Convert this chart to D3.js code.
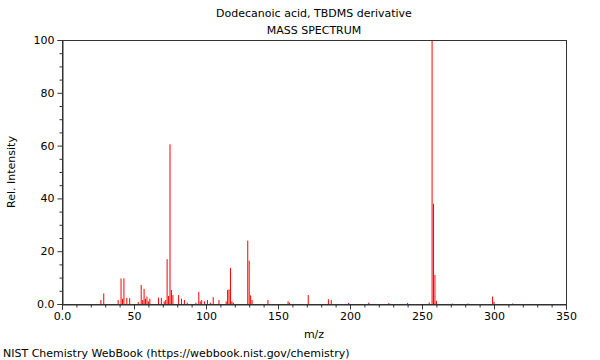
<!DOCTYPE html>
<html>
<head>
<meta charset="utf-8">
<script src="https://cdn.jsdelivr.net/npm/d3@7"></script>
<style>
  body { margin: 0; background: #fff; }
  text { font-family: "DejaVu Sans", sans-serif; fill: #000; }
</style>
</head>
<body>
<svg id="chart" width="600" height="360"></svg>
<script>
// peaks
let mz = [27, 29, 39, 41, 42, 43, 45, 47, 53, 55, 56, 57, 58, 59, 60, 61,
          67, 69, 71, 72, 73, 74, 75, 76, 77, 81, 83, 85, 87, 93, 95, 96,
          97, 99, 101, 103, 105, 109, 114, 115, 116, 117, 118, 119, 129, 130,
          131, 132, 143, 157, 158, 171, 185, 187, 199, 213, 227, 240, 255,
          257, 258, 259, 260, 271, 282, 299, 300, 313];
let intensity = [1.5, 4.0, 1.5, 9.7, 2.0, 9.7, 2.3, 2.2, 0.7, 7.2, 1.5, 5.7, 2.0, 2.8, 1.0, 2.0,
                 2.4, 2.3, 1.0, 1.5, 17, 3.0, 60.5, 5.3, 3.4, 3.4, 2.0, 1.5, 0.5, 0.5, 4.6, 1.0,
                 1.5, 1.0, 1.5, 0.5, 2.6, 1.5, 1.0, 5.3, 5.5, 13.7, 1.0, 0.5, 24, 16.4,
                 3.3, 1.5, 1.5, 1.0, 0.5, 3.4, 1.8, 1.5, 0.4, 0.5, 0.4, 0.4, 0.6,
                 100, 38, 11, 1.2, 0.2, 0.2, 2.8, 0.8, 0.2];
let xMajor = [0, 50, 100, 150, 200, 250, 300, 350];
let yMajor = [0, 20, 40, 60, 80, 100];

let titleText = "Dodecanoic acid, TBDMS derivative";
let subtitleText = "MASS SPECTRUM";
let footerText = "NIST Chemistry WebBook (https://webbook.nist.gov/chemistry)";

let svg = d3.select("#chart");
let plotLeft = 62, plotRight = 566, plotTop = 40, plotBottom = 304;

let x = d3.scaleLinear().domain([0, 350]).range([plotLeft, plotRight]);
let y = d3.scaleLinear().domain([0, 100]).range([plotBottom, plotTop]);

let peaks = mz.map(function(m, i) { return {mz: m, v: intensity[i]}; });

// peaks
svg.append("g")
    .selectAll("line")
    .data(peaks)
    .enter().append("line")
    .attr("x1", function(d) { return x(d.mz); })
    .attr("x2", function(d) { return x(d.mz); })
    .attr("y1", y(0))
    .attr("y2", function(d) { return y(d.v); })
    .style("stroke", "#ff0000")
    .style("stroke-width", 1);

// frame
svg.append("rect")
    .attr("x", plotLeft + 0.5).attr("y", plotTop + 0.5)
    .attr("width", plotRight - plotLeft).attr("height", plotBottom - plotTop)
    .style("fill", "none")
    .style("stroke", "#333")
    .style("stroke-width", 1);

// x axis
let xMinor = d3.range(0, 351, 10).filter(function(v) { return v % 50 != 0; });
let xAxis = svg.append("g").attr("transform", "translate(0," + (plotBottom + 0.5) + ")");
xAxis.call(d3.axisBottom(x).tickValues(xMajor).tickSize(5)
        .tickFormat(function(d) { return d == 0 ? "0.0" : d; }));
xAxis.append("g").selectAll("line")
    .data(xMinor).enter().append("line")
    .attr("x1", function(d) { return x(d) + 0.5; })
    .attr("x2", function(d) { return x(d) + 0.5; })
    .attr("y1", 0).attr("y2", 3)
    .style("stroke", "#333");

// y axis
let yMinor = d3.range(0, 101, 5).filter(function(v) { return v % 20 != 0; });
let yAxis = svg.append("g").attr("transform", "translate(" + (plotLeft + 0.5) + ",0)");
yAxis.call(d3.axisLeft(y).tickValues(yMajor).tickSize(5)
        .tickFormat(function(d) { return d == 0 ? "0.0" : d; }));
yAxis.append("g").selectAll("line")
    .data(yMinor).enter().append("line")
    .attr("x1", 0).attr("x2", -3)
    .attr("y1", function(d) { return y(d) + 0.5; })
    .attr("y2", function(d) { return y(d) + 0.5; })
    .style("stroke", "#333");

svg.selectAll(".domain").style("stroke", "#333");
svg.selectAll(".tick line").style("stroke", "#333");
svg.selectAll(".tick text")
    .style("font-family", "DejaVu Sans, sans-serif")
    .style("font-size", "11px")
    .style("fill", "#000");

// titles and labels
svg.append("text").attr("x", 314).attr("y", 17)
    .attr("text-anchor", "middle").style("font-size", "11px").text(titleText);
svg.append("text").attr("x", 314).attr("y", 34)
    .attr("text-anchor", "middle").style("font-size", "11px").text(subtitleText);
svg.append("text").attr("x", 314).attr("y", 338)
    .attr("text-anchor", "middle").style("font-size", "11px").text("m/z");
svg.append("text")
    .attr("transform", "translate(15," + ((plotTop + plotBottom) / 2) + ") rotate(-90)")
    .attr("text-anchor", "middle").style("font-size", "11px").text("Rel. Intensity");
svg.append("text").attr("x", 3).attr("y", 357)
    .style("font-size", "11px").text(footerText);
</script>
</body>
</html>
